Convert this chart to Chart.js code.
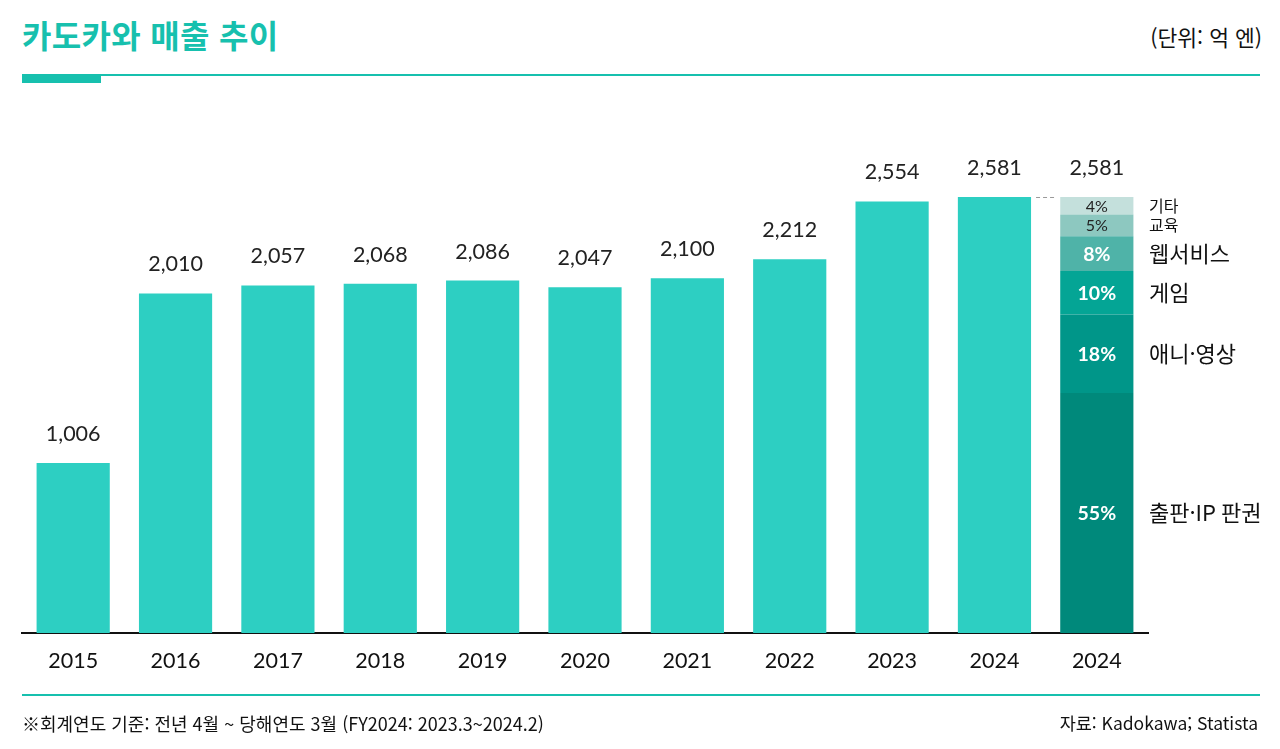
<!DOCTYPE html>
<html lang="ko">
<head>
<meta charset="utf-8">
<script src="https://cdn.jsdelivr.net/npm/chart.js@4"></script>
<style>
  body { margin: 0; background: #fff; font-family: "Noto Sans CJK KR", "Noto Sans", sans-serif; color: #111; }
  #page { position: relative; width: 1280px; height: 749px; overflow: hidden; }
  #title { position: absolute; left: 22px; top: 11px; font-size: 32px; font-weight: 700; color: #17c0ae; letter-spacing: 0.3px; }
  #unit { position: absolute; right: 18px; top: 21px; font-size: 21.5px; }
  .rule { position: absolute; left: 22px; width: 1238px; height: 2px; background: #17c0ae; }
  #accent { position: absolute; left: 22px; top: 75px; width: 79px; height: 8px; background: #17c0ae; }
  #note { position: absolute; left: 22px; top: 710px; font-size: 18px; letter-spacing: 0px; }
  #src { position: absolute; right: 22px; top: 710px; font-size: 17.5px; }
  #wrap { position: absolute; left: 0; top: 0; width: 1280px; height: 749px; }
</style>
</head>
<body>
<div id="page">
  <div id="title">카도카와 매출 추이</div>
  <div id="unit">(단위: 억 엔)</div>
  <div class="rule" style="top:74px"></div>
  <div id="accent"></div>
  <div id="wrap"><canvas id="chart"></canvas></div>
  <div class="rule" style="top:694px"></div>
  <div id="note">※회계연도 기준: 전년 4월 ~ 당해연도 3월 (FY2024: 2023.3~2024.2)</div>
  <div id="src">자료: Kadokawa; Statista</div>
</div>
<script>
const years = ["2015", "2016", "2017", "2018", "2019", "2020", "2021", "2022", "2023", "2024", "2024"];
const sales = [1006, 2010, 2057, 2068, 2086, 2047, 2100, 2212, 2554, 2581, null];

// 2024 breakdown, bottom to top
const segNames = ["출판·IP 판권", "애니·영상", "게임", "웹서비스", "교육", "기타"];
const segShares = [55, 18, 10, 8, 5, 4];
const segValues = [1420, 465, 258, 206, 129, 103];
const segTotal = 2581;

const barColor = "#2dcfc2";
const segColors = ["#00897b", "#009689", "#04a595", "#4fb3a8", "#8dc8c0", "#c4e0dc"];

const numFont = "Lato, 'Noto Sans', sans-serif";
const krFont = "'Noto Sans CJK KR', sans-serif";

let datasets = [{
  label: "매출",
  data: sales,
  backgroundColor: barColor
}];
segNames.forEach(function (name, i) {
  let d = years.map(function () { return null; });
  d[d.length - 1] = segValues[i];
  datasets.push({ label: name, data: d, backgroundColor: segColors[i] });
});

const labelPlugin = {
  id: "labels",
  afterDatasetsDraw(chart) {
    const ctx = chart.ctx;
    ctx.save();
    ctx.textAlign = "center";
    ctx.textBaseline = "middle";

    // totals above bars
    ctx.fillStyle = "#222";
    ctx.font = "21.5px " + numFont;
    const main = chart.getDatasetMeta(0).data;
    main.forEach(function (bar, i) {
      if (sales[i] == null) return;
      ctx.fillText(sales[i].toLocaleString("en-US"), bar.x, bar.y - 29);
    });
    const top = chart.getDatasetMeta(segNames.length).data[years.length - 1];
    ctx.fillText(segTotal.toLocaleString("en-US"), top.x, top.y - 29);

    // dashed connector
    const last = main[years.length - 2];
    ctx.strokeStyle = "#999";
    ctx.lineWidth = 1;
    ctx.setLineDash([4, 3]);
    ctx.beginPath();
    ctx.moveTo(last.x + last.width / 2 + 5, top.y + 0.5);
    ctx.lineTo(top.x - top.width / 2 - 4, top.y + 0.5);
    ctx.stroke();
    ctx.setLineDash([]);

    // segment labels
    segNames.forEach(function (name, i) {
      const el = chart.getDatasetMeta(i + 1).data[years.length - 1];
      const cy = (el.y + el.base) / 2;
      const small = segShares[i] < 8;
      ctx.textAlign = "center";
      ctx.fillStyle = small ? "#222" : "#fff";
      ctx.font = (small ? "16px " : "bold 19.5px ") + numFont;
      ctx.fillText(segShares[i] + "%", el.x, cy + 1);
      ctx.textAlign = "left";
      ctx.fillStyle = "#111";
      ctx.font = (small ? "16px " : "22px ") + krFont;
      ctx.fillText(name, 1149, cy);
    });
    ctx.restore();
  }
};

new Chart(document.getElementById("chart"), {
  type: "bar",
  data: { labels: years, datasets: datasets },
  options: {
    responsive: true,
    maintainAspectRatio: false,
    animation: false,
    layout: { padding: { left: 22, right: 132, top: 160, bottom: 0 } },
    categoryPercentage: 1,
    barPercentage: 0.715,
    plugins: {
      legend: { display: false },
      tooltip: { enabled: false }
    },
    scales: {
      x: {
        stacked: true,
        grid: { display: false, drawTicks: false },
        border: { display: true, color: "#111", width: 2 },
        ticks: { color: "#111", font: { size: 21.5, family: numFont }, padding: 15 },
        afterFit(scale) { scale.height = 116; }
      },
      y: {
        stacked: true,
        display: false,
        min: 0,
        max: 2800
      }
    }
  },
  plugins: [labelPlugin]
});
</script>
</body>
</html>
